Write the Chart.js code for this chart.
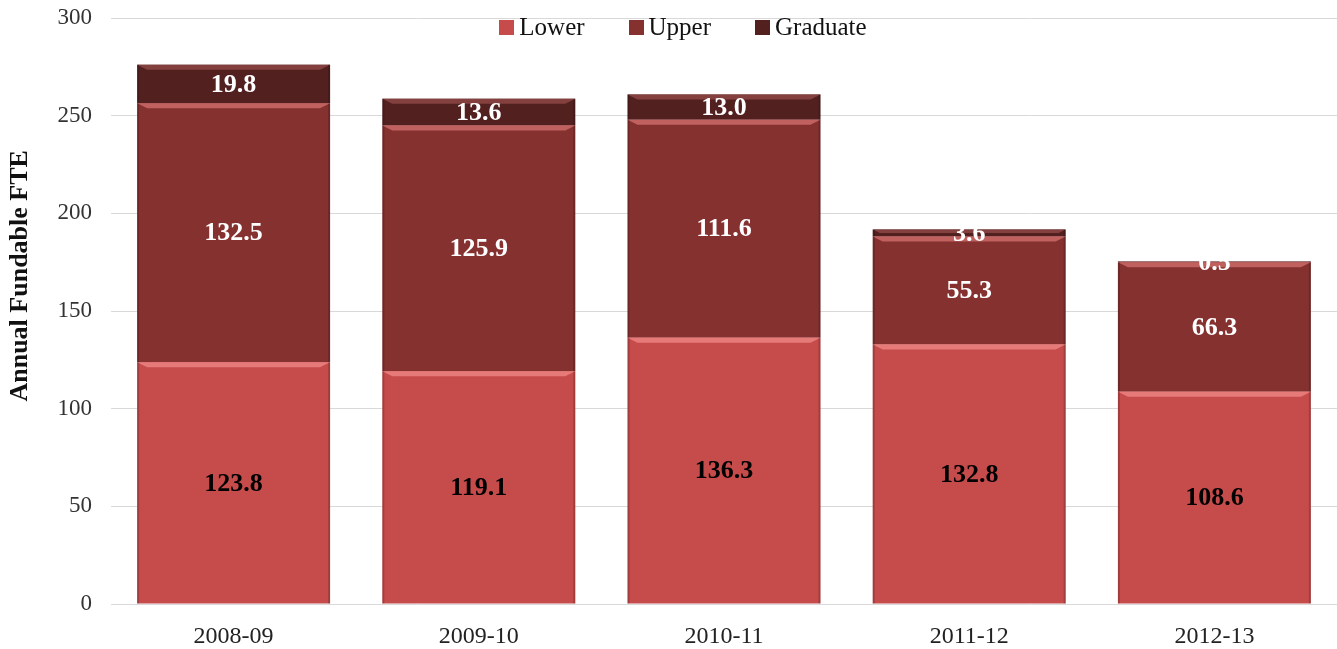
<!DOCTYPE html>
<html>
<head>
<meta charset="utf-8">
<script src="https://cdn.jsdelivr.net/npm/chart.js@4.4.1/dist/chart.umd.min.js"></script>
<style>
  html, body { margin: 0; padding: 0; background: #fff; }
  #wrap { position: relative; width: 1337px; height: 649px; }
  #legend {
    position: absolute; top: 13px; left: 0; width: 1366px;
    display: flex; justify-content: center; gap: 44px;
    font-family: "Liberation Serif", "DejaVu Serif", serif; font-size: 25px; color: #111;
    line-height: 28px;
  }
  #legend span.item { display: flex; align-items: center; }
  #legend i { display: inline-block; width: 15px; height: 15px; margin-right: 5px; }
</style>
</head>
<body>
<div id="wrap">
  <canvas id="chart" width="1337" height="649"></canvas>
  <div id="legend"></div>
</div>
<script>
// Data
const years = ["2008-09", "2009-10", "2010-11", "2011-12", "2012-13"];
const lower = [123.8, 119.1, 136.3, 132.8, 108.6];
const upper = [132.5, 125.9, 111.6, 55.3, 66.3];
const graduate = [19.8, 13.6, 13.0, 3.6, 0.5];
const yTicks = [0, 50, 100, 150, 200, 250, 300];
const yTitle = "Annual Fundable FTE";

const serif = '"Liberation Serif", "DejaVu Serif", serif';

const series = [
  { label: "Lower", data: lower, fill: "#c64b4b", light: "#e57a78", text: "#000" },
  { label: "Upper", data: upper, fill: "#843130", light: "#c0615f", text: "#fff" },
  { label: "Graduate", data: graduate, fill: "#532020", light: "#84403e", text: "#fff" },
];

// Bevel-ish highlight along the top edge of every segment
const bevel = {
  id: "bevel",
  afterDatasetsDraw(chart) {
    const ctx = chart.ctx;
    chart.data.datasets.forEach((ds, i) => {
      const meta = chart.getDatasetMeta(i);
      meta.data.forEach((bar) => {
        const left = bar.x - bar.width / 2;
        const right = bar.x + bar.width / 2;
        const top = Math.min(bar.y, bar.base);
        const h = Math.abs(bar.base - bar.y);
        const b = Math.min(5, h / 2);
        ctx.save();
        ctx.fillStyle = series[i].light;
        ctx.beginPath();
        ctx.moveTo(left, top);
        ctx.lineTo(right, top);
        ctx.lineTo(right - b * 2, top + b);
        ctx.lineTo(left + b * 2, top + b);
        ctx.closePath();
        ctx.fill();
        ctx.fillStyle = "rgba(0,0,0,0.18)";
        ctx.fillRect(left, top, 2, h);
        ctx.fillRect(right - 2, top, 2, h);
        ctx.restore();
      });
    });
  },
};

// Value labels centred in each segment
const valueLabels = {
  id: "valueLabels",
  afterDatasetsDraw(chart) {
    const ctx = chart.ctx;
    ctx.save();
    ctx.font = "bold 26px " + serif;
    ctx.textAlign = "center";
    ctx.textBaseline = "middle";
    chart.data.datasets.forEach((ds, i) => {
      const meta = chart.getDatasetMeta(i);
      meta.data.forEach((bar, j) => {
        ctx.fillStyle = series[i].text;
        ctx.fillText(ds.data[j].toFixed(1), bar.x, (bar.y + bar.base) / 2 + 1);
      });
    });
    ctx.restore();
  },
};

// Rotated y-axis title, sitting a little above the middle of the plot like the original
const axisTitle = {
  id: "axisTitle",
  afterDraw(chart) {
    const ctx = chart.ctx;
    const area = chart.chartArea;
    ctx.save();
    ctx.translate(20, area.top + (area.bottom - area.top) * 0.44);
    ctx.rotate(-Math.PI / 2);
    ctx.font = "bold 26px " + serif;
    ctx.fillStyle = "#111";
    ctx.textAlign = "center";
    ctx.textBaseline = "middle";
    ctx.fillText(yTitle, 0, 0);
    ctx.restore();
  },
};

const chart = new Chart(document.getElementById("chart"), {
  type: "bar",
  data: {
    labels: years,
    datasets: series.map((s) => ({
      label: s.label,
      data: s.data,
      backgroundColor: s.fill,
      borderWidth: 0,
      categoryPercentage: 1,
      barPercentage: 0.787,
    })),
  },
  options: {
    responsive: false,
    animation: false,
    layout: { padding: { top: 18, right: 0, left: 0, bottom: 0 } },
    plugins: { legend: { display: false }, tooltip: { enabled: false } },
    scales: {
      x: {
        stacked: true,
        grid: { display: false },
        border: { display: false },
        ticks: { font: { family: serif, size: 24 }, color: "#222", padding: 10 },
        afterFit: (s) => { s.height = 45; },
      },
      y: {
        stacked: true,
        min: 0,
        max: 300,
        afterBuildTicks: (s) => { s.ticks = yTicks.map((v) => ({ value: v })); },
        grid: { color: "#d9d9d9", lineWidth: 1, drawTicks: false },
        border: { display: false },
        ticks: { font: { family: serif, size: 23 }, color: "#333", padding: 19 },
        afterFit: (s) => { s.width = 111; s.paddingTop = 0; s.paddingBottom = 0; },
      },
    },
  },
  plugins: [bevel, valueLabels, axisTitle],
});

// HTML legend over the top of the plot
const legend = document.getElementById("legend");
chart.data.datasets.forEach((ds) => {
  const item = document.createElement("span");
  item.className = "item";
  item.innerHTML = `<i style="background:${ds.backgroundColor}"></i>${ds.label}`;
  legend.appendChild(item);
});
</script>
</body>
</html>
